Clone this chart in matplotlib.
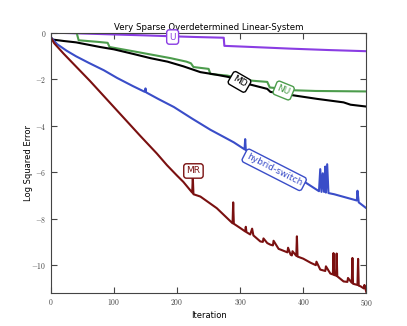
import matplotlib
matplotlib.use('Agg')
import matplotlib.pyplot as plt
from matplotlib.ticker import FuncFormatter

plt.rcParams['mathtext.fontset'] = 'cm'

# series (iteration, log squared error)
u_it = [0, 40, 100, 150, 193, 230, 274, 275, 320, 380, 440, 500]
u_err = [0, -0.03, -0.08, -0.12, -0.16, -0.19, -0.22, -0.57, -0.62, -0.69, -0.75, -0.80]

nu_it = [0, 41, 44, 75, 90, 93, 130, 160, 190, 215, 222, 226, 250, 253, 280, 300,
         320, 343, 347, 370, 385, 420, 500]
nu_err = [0, -0.02, -0.33, -0.40, -0.44, -0.62, -0.80, -0.95, -1.10, -1.25, -1.32, -1.48,
          -1.56, -1.78, -1.85, -1.98, -2.07, -2.12, -2.36, -2.42, -2.48, -2.51, -2.53]

md_it = [0, 3, 20, 40, 78, 100, 131, 158, 185, 210, 237, 260, 280, 300, 314, 343,
         348, 385, 422, 464, 475, 500]
md_err = [-0.22, -0.30, -0.36, -0.42, -0.62, -0.72, -0.92, -1.10, -1.25, -1.45, -1.70,
          -1.80, -1.90, -2.05, -2.22, -2.42, -2.55, -2.70, -2.85, -3.00, -3.10, -3.18]

hy_it = [0, 10, 25, 40, 60, 84, 105, 130, 149, 150, 151, 170, 195, 224, 253, 275,
         290, 307, 308, 309, 330, 360, 385, 401, 425, 427, 429, 431, 433, 435, 436,
         438, 440, 449, 465, 485, 486, 488, 500]
hy_err = [-0.20, -0.50, -0.78, -1.02, -1.30, -1.62, -1.95, -2.30, -2.55, -2.40, -2.57,
          -2.85, -3.20, -3.70, -4.18, -4.50, -4.72, -5.02, -4.58, -5.05, -5.35, -5.80,
          -6.15, -6.40, -6.82, -5.87, -6.85, -6.05, -6.85, -5.76, -6.88, -5.66, -6.90,
          -6.95, -7.07, -7.22, -6.80, -7.30, -7.55]

mr_it = [0, 5, 20, 36, 62, 89, 115, 142, 168, 184, 200, 210, 224, 225, 226, 237,
         263, 288, 289, 290, 300, 308, 309, 310, 316, 319, 321, 332, 336, 337, 343,
         348, 352, 353, 361, 364, 375, 376, 380, 382, 383, 389, 390, 391, 400, 412,
         420, 421, 427, 435, 436, 443, 447, 448, 449, 452, 453, 454, 464, 470, 471,
         477, 478, 479, 486, 487, 488, 491, 496, 497, 500]
mr_err = [-0.20, -0.45, -0.90, -1.35, -2.08, -2.88, -3.65, -4.45, -5.20, -5.70, -6.15,
          -6.42, -6.88, -6.20, -6.95, -7.05, -7.55, -8.20, -7.30, -8.22, -8.40, -8.55,
          -8.35, -8.58, -8.68, -8.43, -8.72, -8.98, -9.00, -8.85, -9.05, -9.12, -9.15,
          -8.95, -9.30, -9.33, -9.45, -9.25, -9.55, -9.58, -9.40, -9.60, -8.76, -9.63,
          -9.72, -9.90, -10.00, -9.85, -10.19, -10.25, -10.05, -10.36, -10.40, -9.48,
          -10.42, -10.45, -9.50, -10.48, -10.70, -10.72, -10.55, -10.76, -9.69, -10.80,
          -10.85, -9.73, -10.88, -10.91, -11.00, -10.85, -11.15]

c_u = '#8a3de3'
c_nu = '#4c9c4c'
c_md = 'black'
c_hy = '#3a4dc8'
c_mr = '#7a1010'

fig, ax = plt.subplots(figsize=(4.07, 3.26), dpi=100)

ax.plot(u_it, u_err, color=c_u, lw=1.5)
ax.plot(nu_it, nu_err, color=c_nu, lw=1.5)
ax.plot(md_it, md_err, color=c_md, lw=1.5)
ax.plot(hy_it, hy_err, color=c_hy, lw=1.5)
ax.plot(mr_it, mr_err, color=c_mr, lw=1.5)

# inline labels
labels = [('U', 193, -0.19, 0, c_u),
          ('MD', 299, -2.12, -30, c_md),
          ('NU', 369, -2.49, -22, c_nu),
          ('hybrid-switch', 354, -5.9, -27, c_hy),
          ('MR', 226, -5.95, 0, c_mr)]
for txt, x, y, rot, col in labels:
    ax.text(x, y, txt, color=col, fontsize=6.5, rotation=rot, rotation_mode='anchor',
            ha='center', va='center', zorder=5,
            bbox=dict(boxstyle='round,pad=0.3', fc='white', ec=col, lw=1))

ax.set_xlim(0, 500)
ax.set_ylim(-11.2, 0)
ax.set_xticks([0, 100, 200, 300, 400, 500])
ax.set_yticks([0, -2, -4, -6, -8, -10])
fmt = FuncFormatter(lambda v, p: f'${v:g}$')
ax.xaxis.set_major_formatter(fmt)
ax.yaxis.set_major_formatter(fmt)
ax.tick_params(direction='in', top=True, right=True, length=4, labelsize=5.5,
               colors='#444444', pad=3)
for s in ax.spines.values():
    s.set_color('#444444')

ax.set_title('Very Sparse Overdetermined Linear-System', fontsize=6.2, pad=2)
ax.set_xlabel('Iteration', fontsize=6, labelpad=2)
ax.set_ylabel('Log Squared Error', fontsize=6, labelpad=-1)

fig.subplots_adjust(left=0.125, right=0.9, bottom=0.101, top=0.9)
fig.savefig('out.png', dpi=100)
